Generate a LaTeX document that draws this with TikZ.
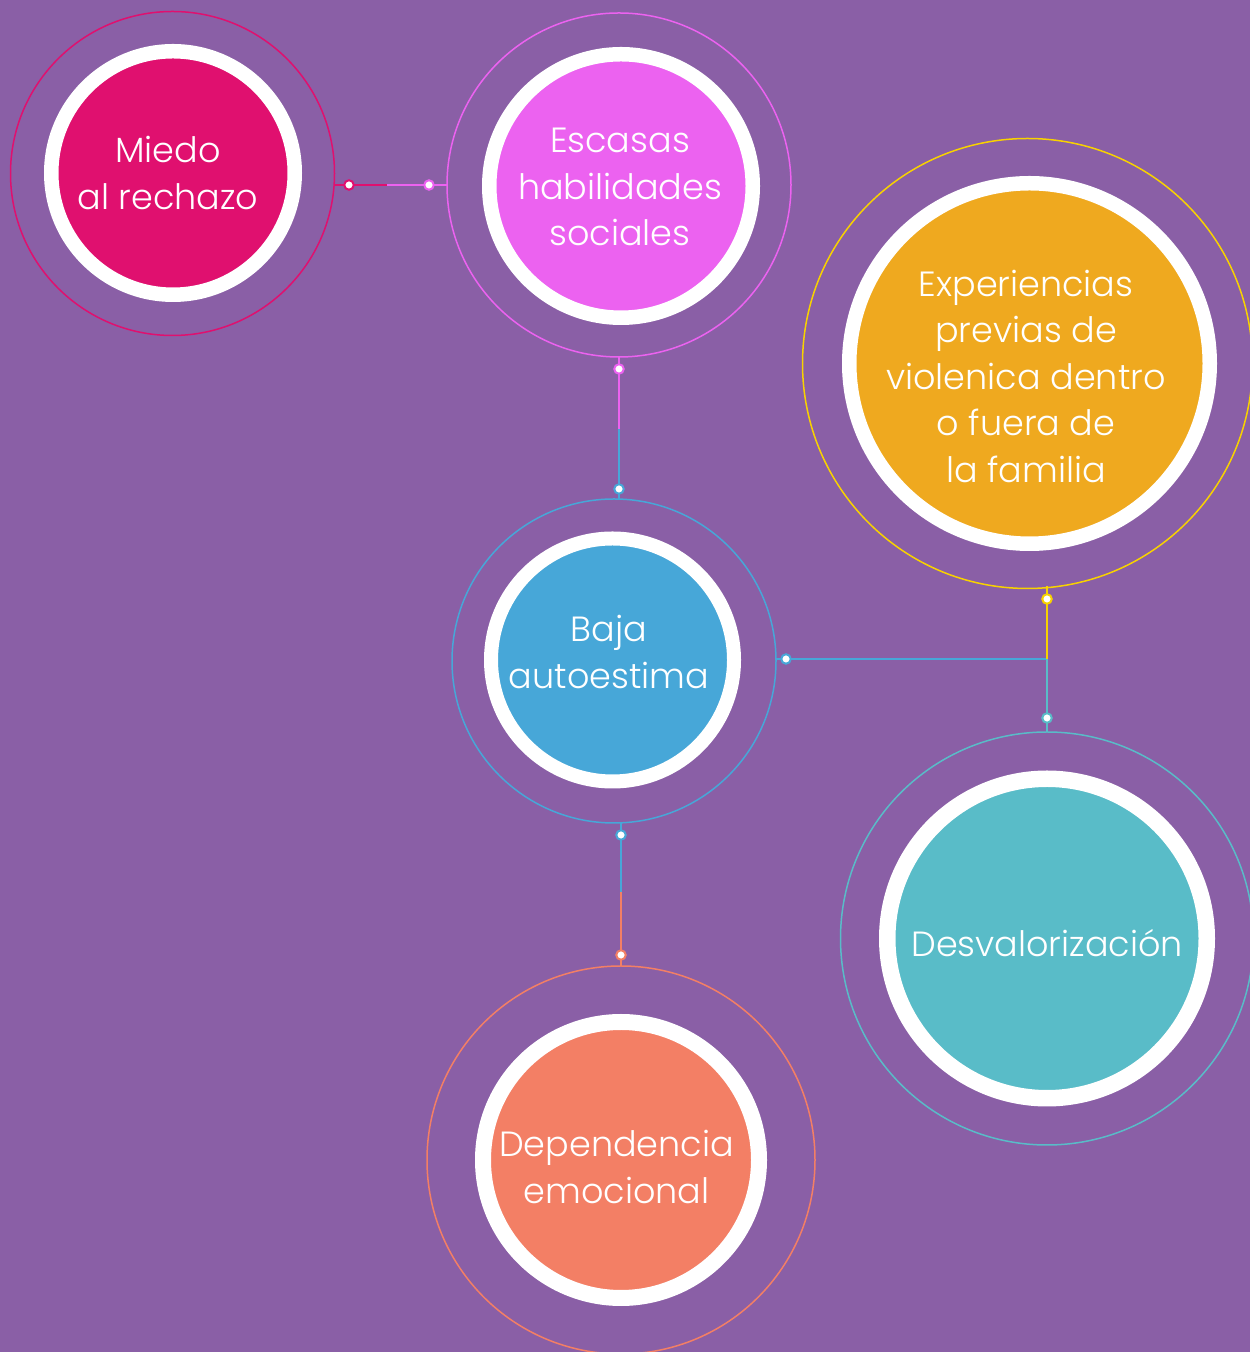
\documentclass[tikz,border=0pt]{standalone}
\usepackage{fontspec}
\setmainfont{Poppins}[UprightFont=* Light]
\usetikzlibrary{calc}
\definecolor{bg}{RGB}{138,95,166}
\definecolor{cmiedo}{RGB}{224,16,111}
\definecolor{cesc}{RGB}{236,98,240}
\definecolor{cexp}{RGB}{239,169,31}
\definecolor{cexpring}{RGB}{248,210,0}
\definecolor{cbaja}{RGB}{71,167,216}
\definecolor{cdesv}{RGB}{89,188,200}
\definecolor{cdep}{RGB}{243,127,101}
\begin{document}
\begin{tikzpicture}[x=1pt,y=1pt,
  ring/.style={circle,inner sep=0pt,outer sep=0pt,line width=1.5pt,draw=#1},
  disc/.style={circle,inner sep=0pt,outer sep=0pt,fill=#1,draw=white},
  label/.style={text=white,align=center,font=\fontsize{35}{46.5}\selectfont},
  conn/.style={line width=1.6pt,draw=#1},
  dot/.style={circle,inner sep=0pt,outer sep=0pt,minimum size=9.5pt,fill=white,draw=#1,line width=2pt}]
\useasboundingbox (0,0) rectangle (1250,1352);
\fill[bg] (0,0) rectangle (1250,1352);
% outer rings
\node[ring=cmiedo,minimum size=324pt] (m-o) at (172.5,1178.5) {};
\node[ring=cesc,minimum size=344pt] (e-o) at (619,1167) {};
\node[ring=cexpring,minimum size=450pt] (x-o) at (1027.5,988.5) {};
\node[ring=cbaja,minimum size=324pt] (b-o) at (614,691) {};
\node[ring=cdesv,minimum size=413pt] (d-o) at (1047,413.5) {};
\node[ring=cdep,minimum size=388pt] (p-o) at (621,192) {};
% discs
\node[disc=cmiedo,line width=14.5pt,minimum size=243.5pt] (m-d) at (173,1179) {};
\node[disc=cesc,line width=14.5pt,minimum size=263.5pt] (e-d) at (621,1166) {};
\node[disc=cexp,line width=14.5pt,minimum size=360.5pt] (x-d) at (1029.5,988.5) {};
\node[disc=cbaja,line width=14pt,minimum size=243pt] (b-d) at (612.5,692) {};
\node[disc=cdesv,line width=16.5pt,minimum size=319.5pt] (d-d) at (1047,413.5) {};
\node[disc=cdep,line width=16pt,minimum size=276pt] (p-d) at (621,192) {};
% labels
\node[label] (m-t) at (168,1179) {Miedo\\al rechazo};
\node[label] (e-t) at (620,1165) {Escasas\\habilidades\\sociales};
\node[label] (x-t) at (1026,976) {Experiencias\\previas de\\violenica dentro\\o fuera de\\la familia};
\node[label] (b-t) at (609,700) {Baja\\autoestima};
\node[label] (d-t) at (1047,409) {Desvalorización};
\node[label] (p-t) at (616.5,185) {Dependencia\\emocional};
% connector Miedo - Escasas
\coordinate (c1a) at (m-o.east |- e-o.west);
\coordinate (c1m) at ($(c1a)!0.47!(e-o.west)$);
\draw[conn=cmiedo] (c1a) -- (c1m);
\draw[conn=cesc] (c1m) -- (e-o.west);
\node[dot=cmiedo] (d1a) at ($(c1a)+(14.5,0)$) {};
\node[dot=cesc] (d1b) at ($(e-o.west)+(-18,0)$) {};
% connector Escasas - Baja
\coordinate (c2b) at (e-o.south |- b-o.north);
\coordinate (c2m) at ($(e-o.south)!0.51!(c2b)$);
\draw[conn=cesc] (e-o.south) -- (c2m);
\draw[conn=cbaja] (c2m) -- (c2b);
\node[dot=cesc] (d2a) at ($(e-o.south)+(0,-12)$) {};
\node[dot=cbaja] (d2b) at ($(c2b)+(0,10)$) {};
% connector Baja - Experiencias / Desvalorizacion
\coordinate (j) at (d-o.north |- 0,693);
\coordinate (c3b) at (b-o.east |- j);
\coordinate (c3x) at (j |- 0,766);
\draw[conn=cbaja] (c3b) -- (j);
\draw[conn=cexpring] (j) -- (c3x);
\draw[conn=cdesv] (j) -- (d-o.north);
\node[dot=cbaja] (d3a) at ($(c3b)+(10,0)$) {};
\node[dot=cexpring] (d3b) at (1047,753) {};
\node[dot=cdesv] (d3c) at ($(d-o.north)+(0,14)$) {};
% connector Baja - Dependencia
\coordinate (c4a) at (621,529);
\coordinate (c4m) at ($(c4a)!0.48!(p-o.north)$);
\draw[conn=cbaja] (c4a) -- (c4m);
\draw[conn=cdep] (c4m) -- (p-o.north);
\node[dot=cbaja] (d4a) at ($(c4a)+(0,-12)$) {};
\node[dot=cdep] (d4b) at ($(p-o.north)+(0,11)$) {};
\end{tikzpicture}
\end{document}
